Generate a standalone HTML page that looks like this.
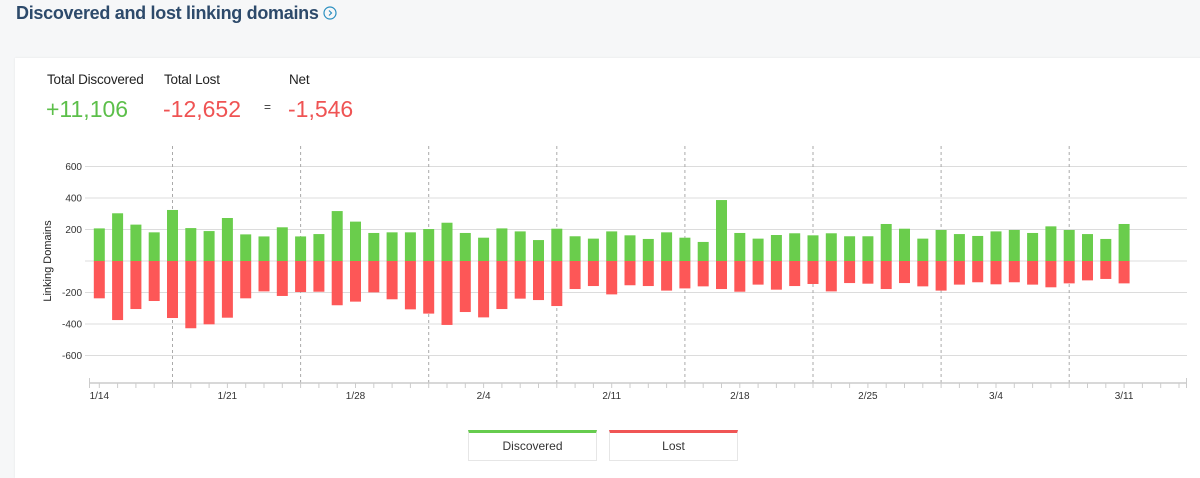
<!DOCTYPE html>
<html><head><meta charset="utf-8"><style>
body{margin:0;width:1200px;height:471px;background:#f6f7f8;font-family:"Liberation Sans",sans-serif;overflow:hidden;position:relative}
.t{position:absolute;left:16px;top:3px;font-size:18px;font-weight:bold;color:#2d4a6b;letter-spacing:-0.3px}
.card{position:absolute;left:15px;top:58px;width:1190px;height:420px;background:#fff;box-shadow:0 0 2px #e2e4e6}
.l{position:absolute;font-size:13.5px;color:#222;top:72px;letter-spacing:-0.2px}
.n{position:absolute;font-size:23px;top:96px}
</style></head><body>
<div class="t">Discovered and lost linking domains <svg width="14" height="14" style="vertical-align:-1px"><circle cx="7" cy="7" r="6" fill="none" stroke="#2a8fc0" stroke-width="1.2"/><path d="M6 4.5 L8.5 7 L6 9.5" fill="none" stroke="#2a8fc0" stroke-width="1.2"/></svg></div>
<div class="card"></div>
<div class="l" style="left:47px">Total Discovered</div>
<div class="l" style="left:164px">Total Lost</div>
<div class="l" style="left:289px">Net</div>
<div class="n" style="left:46px;color:#5cbf4a">+11,106</div>
<div class="n" style="left:163px;color:#ef5353">-12,652</div>
<div style="position:absolute;left:264px;top:100px;font-size:12px;color:#333">=</div>
<div class="n" style="left:288px;color:#ef5353">-1,546</div>
<svg id="c" width="1200" height="471" style="position:absolute;left:0;top:0" font-family="Liberation Sans, sans-serif"></svg>
<div style="position:absolute;left:468px;top:430px;width:127px;height:27px;border:1px solid #e6e6e6;border-top:3px solid #66cc4e;font-size:12px;text-align:center;line-height:27px;color:#333;background:#fff">Discovered</div>
<div style="position:absolute;left:609px;top:430px;width:127px;height:27px;border:1px solid #e6e6e6;border-top:3px solid #f05555;font-size:12px;text-align:center;line-height:27px;color:#333;background:#fff">Lost</div>
<script>
var g=[207,303,231,182,324,209,190,273,169,156,214,156,171,317,250,178,182,182,203,243,178,148,207,188,133,205,157,142,188,163,140,182,148,121,387,178,142,165,176,163,176,157,157,235,205,142,197,171,159,188,197,178,220,197,171,140,235];
var r=[237,375,305,254,362,427,402,360,237,193,222,197,195,281,258,199,243,307,334,406,324,358,305,239,248,286,178,159,212,154,159,188,174,161,178,195,150,182,159,146,193,140,144,178,140,161,188,150,135,148,135,150,167,142,123,114,142];
var s='',z=261,k=0.1575,d=18.3,x0=99.3;
[600,400,200,0,-200,-400,-600].forEach(function(v){var y=z-v*k;s+='<line x1="85" x2="1187" y1="'+y+'" y2="'+y+'" stroke="#dcdcdc"/>';if(v)s+='<text x="82" y="'+(y+3.5)+'" font-size="10" fill="#333" text-anchor="end">'+v+'</text>';});
for(var i=4;i<57;i+=7){var x=x0+i*d;s+='<line x1="'+x+'" x2="'+x+'" y1="146" y2="383" stroke="#aaa" stroke-dasharray="3,3"/>';}
for(i=0;i<57;i++){var x=x0+i*d-5.5;s+='<rect x="'+x+'" y="'+(z-g[i]*k)+'" width="11" height="'+g[i]*k+'" fill="#6acd4c"/><rect x="'+x+'" y="'+z+'" width="11" height="'+r[i]*k+'" fill="#fd5757"/>';}
s+='<line x1="89" x2="1187" y1="383" y2="383" stroke="#ccc" stroke-width="1.5"/>';
s+='<line x1="89.5" x2="89.5" y1="378" y2="388" stroke="#ccc"/><line x1="1186.5" x2="1186.5" y1="378" y2="388" stroke="#ccc"/>';
for(i=0;i<60;i++){var x=x0+i*d;if(x>1185)break;s+='<line x1="'+x+'" x2="'+x+'" y1="383" y2="388" stroke="#ccc"/>';}
var lb=['1/14','1/21','1/28','2/4','2/11','2/18','2/25','3/4','3/11'];
lb.forEach(function(t,j){var x=x0+j*7*d;s+='<text x="'+x+'" y="399" font-size="10" fill="#333" text-anchor="middle">'+t+'</text>';});
s+='<text transform="translate(51,261) rotate(-90)" font-size="11" fill="#222" text-anchor="middle">Linking Domains</text>';
document.getElementById('c').innerHTML=s;
</script>
</body></html>
